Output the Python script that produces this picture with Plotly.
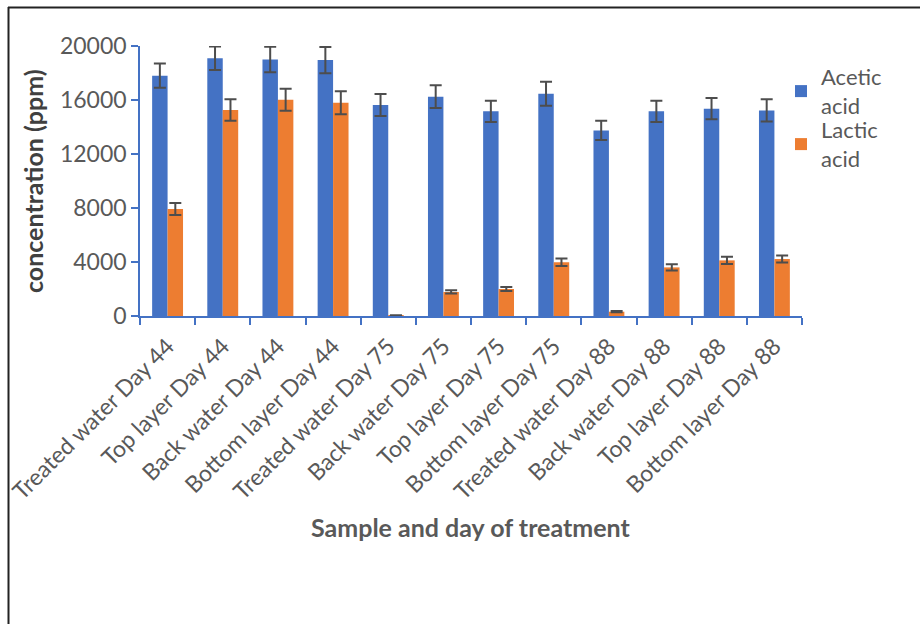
import plotly.graph_objects as go

categories = [
    "Treated water Day 44", "Top layer Day 44", "Back water Day 44", "Bottom layer Day 44",
    "Treated water Day 75", "Back water Day 75", "Top layer Day 75", "Bottom layer Day 75",
    "Treated water Day 88", "Back water Day 88", "Top layer Day 88", "Bottom layer Day 88",
]
acetic = [17800, 19100, 19000, 18960, 15630, 16250, 15160, 16470, 13750, 15160, 15360, 15230]
acetic_err = [900, 870, 940, 970, 810, 840, 790, 890, 720, 790, 790, 820]
lactic = [7930, 15260, 16020, 15800, 30, 1780, 2000, 3980, 320, 3600, 4120, 4220]
lactic_err = [440, 790, 820, 850, 20, 120, 140, 280, 50, 230, 260, 260]
y_ticks = [0, 4000, 8000, 12000, 16000, 20000]
y_tick_labels = ["0", "4000", "8000", "12000", "16000", "20000"]

BLUE = "#4472C4"
ORANGE = "#ED7D31"
GRAY = "#595959"
FONT = "Lato, 'Open Sans', sans-serif"

W, H = 920, 624
L, T = 140, 46
pw, ph = 662, 270
R, B = W - L - pw, H - T - ph

def px(x):  # page pixel -> paper x
    return (x - L) / pw

def py(y):  # page pixel -> paper y
    return (T + ph - y) / ph

fig = go.Figure()
fig.add_trace(go.Bar(
    name="Acetic<br>acid", x=categories, y=acetic, marker=dict(color=BLUE, line=dict(width=0)),
    error_y=dict(type="data", array=acetic_err, color="#4d4d4d", thickness=2, width=6),
    legend="legend",
))
fig.add_trace(go.Bar(
    name="Lactic<br>acid", x=categories, y=lactic, marker=dict(color=ORANGE, line=dict(width=0)),
    error_y=dict(type="data", array=lactic_err, color="#4d4d4d", thickness=2, width=6),
    legend="legend2",
))

legend_common = dict(xanchor="left", yanchor="top", font=dict(size=22, color=GRAY),
                     itemwidth=30, bgcolor="rgba(0,0,0,0)")

fig.update_layout(
    width=W, height=H,
    margin=dict(l=L, r=R, t=T, b=B, autoexpand=False),
    paper_bgcolor="white", plot_bgcolor="white",
    barmode="group", bargap=0.44, bargroupgap=0,
    font=dict(family=FONT, size=22, color=GRAY),
    showlegend=True,
    legend=dict(x=px(781), y=py(56), **legend_common),
    legend2=dict(x=px(781), y=py(109), **legend_common),
    xaxis=dict(
        type="category", tickangle=-45, tickson="boundaries", automargin=False,
        ticks="outside", ticklen=7, tickcolor=BLUE, tickwidth=1.5,
        showline=True, linecolor=BLUE, linewidth=1.5, showgrid=False,
        tickfont=dict(size=23, color=GRAY), ticklabelstandoff=6,
    ),
    yaxis=dict(
        range=[0, 20000], tickvals=y_ticks, ticktext=y_tick_labels, automargin=False,
        ticks="outside", ticklen=7, tickcolor=BLUE, tickwidth=1.5,
        showline=True, linecolor=BLUE, linewidth=1.5, showgrid=False, zeroline=False,
        tickfont=dict(size=23, color=GRAY),
    ),
    annotations=[
        dict(text="<b>Sample and day of treatment</b>", xref="paper", yref="paper",
             x=px(470), y=py(527), xanchor="center", yanchor="middle", showarrow=False,
             font=dict(size=25, color=GRAY)),
        dict(text="<b>concentration (ppm)</b>", xref="paper", yref="paper",
             x=px(33), y=py(181), xanchor="center", yanchor="middle", showarrow=False,
             textangle=-90, font=dict(size=25, color="#404040")),
    ],
    shapes=[
        dict(type="line", xref="paper", yref="paper", x0=px(8.5), x1=px(8.5), y0=py(7), y1=py(660),
             line=dict(color="#222222", width=2)),
        dict(type="line", xref="paper", yref="paper", x0=px(8), x1=px(940), y0=py(7.5), y1=py(7.5),
             line=dict(color="#222222", width=2)),
    ],
)

fig.write_html("out.html", config={"displayModeBar": False})
with open("out.html", encoding="utf-8") as f:
    html = f.read()
html = html.replace("<body>", '<body style="margin:0;overflow:hidden">', 1)
with open("out.html", "w", encoding="utf-8") as f:
    f.write(html)
